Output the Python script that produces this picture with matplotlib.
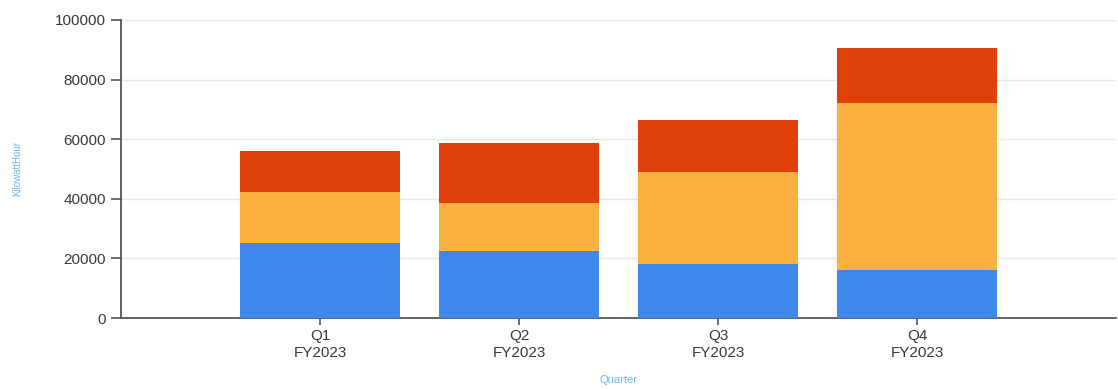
import matplotlib
matplotlib.use("Agg")
import matplotlib.pyplot as plt
import numpy as np

plt.rcParams['font.family'] = ['Liberation Sans', 'DejaVu Sans']

quarters = ["Q1\nFY2023", "Q2\nFY2023", "Q3\nFY2023", "Q4\nFY2023"]
blue_vals = [25100, 22500, 18100, 16100]
orange_vals = [17100, 16200, 30800, 56000]
red_vals = [13800, 19900, 17500, 18400]
y_ticks = [0, 20000, 40000, 60000, 80000, 100000]

c_blue = "#3d88ea"
c_orange = "#fbb03f"
c_red = "#e04009"

fig = plt.figure(figsize=(11.18, 3.89), dpi=100)
ax = fig.add_axes([121 / 1118, 1 - 318 / 389, (1116 - 121) / 1118, (318 - 20) / 389])

x = np.arange(len(quarters))
b1 = np.array(blue_vals)
b2 = b1 + np.array(orange_vals)
ax.bar(x, blue_vals, width=0.8, color=c_blue, zorder=3)
ax.bar(x, orange_vals, width=0.8, bottom=b1, color=c_orange, zorder=3)
ax.bar(x, red_vals, width=0.8, bottom=b2, color=c_red, zorder=3)

ax.set_xlim(-1, 4)
ax.set_ylim(0, 100000)
ax.set_yticks(y_ticks)
ax.set_yticklabels([str(v) for v in y_ticks], fontsize=11, color="#3a3a3a")
ax.set_xticks(x)
ax.set_xticklabels(quarters, fontsize=11, color="#3a3a3a", linespacing=1.25)
ax.yaxis.grid(True, color="#e8e8e8", linewidth=1, zorder=0)
ax.tick_params(axis="y", direction="out", length=7, width=1.2, color="#555555", pad=4)
ax.tick_params(axis="x", direction="out", length=5, width=1.2, color="#555555", pad=3)
for side in ["top", "right"]:
    ax.spines[side].set_visible(False)
ax.spines["left"].set_color("#555555")
ax.spines["bottom"].set_color("#555555")
ax.spines["left"].set_linewidth(1.3)
ax.spines["bottom"].set_linewidth(1.3)

ax.set_ylabel("KilowattHour", fontsize=7, color="#6bb8ec")
ax.yaxis.set_label_coords(-0.0995, 0.5)
ax.set_xlabel("Quarter", fontsize=8, color="#6bb8ec")
ax.xaxis.set_label_coords(0.5, -0.19)

fig.savefig("out.png", dpi=100, facecolor="white")
